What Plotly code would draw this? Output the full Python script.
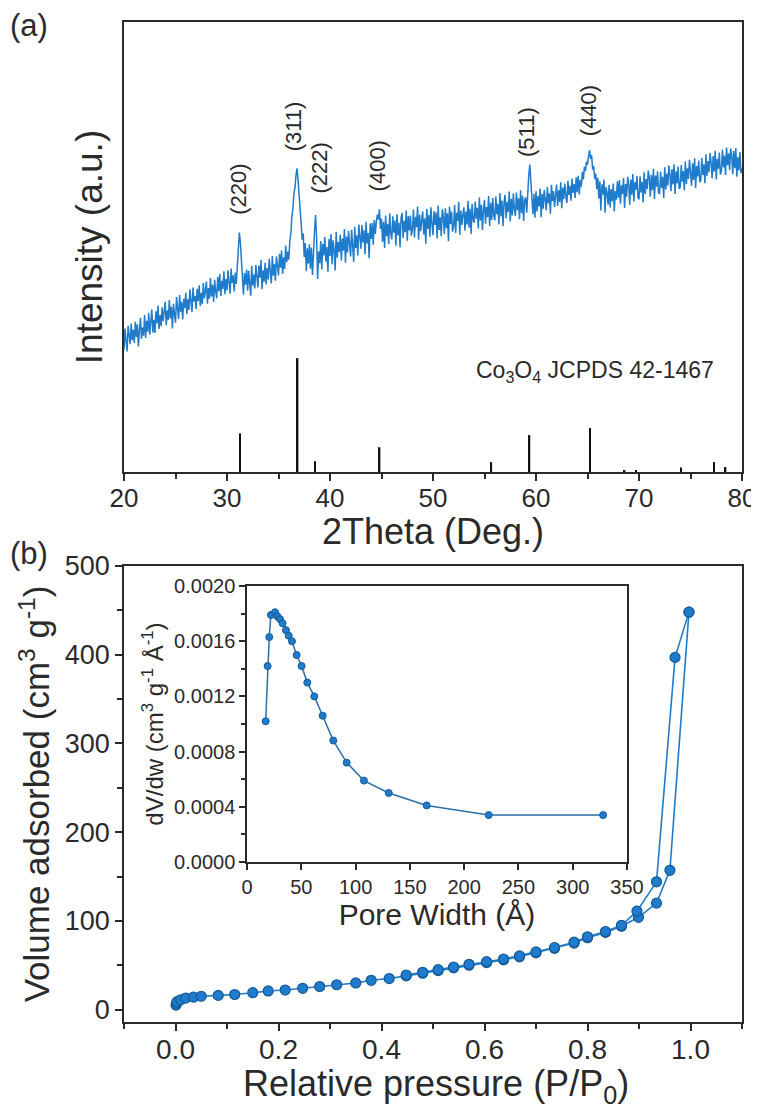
import numpy as np
import plotly.graph_objects as go

# ---- (a) XRD pattern, 0.1 deg steps ----
two_theta = np.round(np.arange(20, 80.001, 0.1), 1)
intensity = [
    27.2, 31.9, 29.0, 26.8, 32.5, 30.1, 28.4, 33.0, 29.3, 31.6,
    28.7, 33.4, 30.0, 32.8, 27.9, 31.5, 34.2, 29.6, 32.1, 30.3,
    34.9, 29.8, 33.6, 31.2, 35.4, 30.5, 32.9, 36.1, 31.0, 33.8,
    30.9, 35.7, 33.0, 37.0, 31.8, 34.9, 32.4, 36.6, 33.5, 35.2,
    37.8, 32.6, 35.9, 33.8, 38.2, 34.1, 36.7, 31.9, 37.4, 35.0,
    33.2, 38.9, 36.1, 34.0, 39.3, 35.6, 37.8, 33.9, 38.5, 36.4,
    39.8, 35.1, 38.4, 36.0, 40.6, 37.2, 35.5, 41.0, 37.9, 39.1,
    36.2, 40.7, 38.0, 41.5, 36.9, 39.8, 37.3, 42.0, 38.6, 40.2,
    42.3, 37.4, 40.9, 38.5, 43.1, 39.0, 41.6, 37.8, 42.7, 40.1,
    38.6, 43.4, 40.2, 44.0, 39.1, 42.5, 40.7, 44.6, 39.5, 42.9,
    40.4, 44.8, 41.3, 39.6, 45.2, 42.0, 43.7, 40.1, 44.3, 41.8,
    45.6, 49.0, 53.2, 51.0, 46.1, 43.0, 39.4, 44.2, 41.6, 45.0,
    40.3, 44.7, 42.1, 39.2, 45.8, 41.4, 43.9, 40.8, 46.0, 42.6,
    41.0, 45.9, 43.2, 47.1, 40.6, 44.8, 42.3, 46.5, 41.7, 45.3,
    42.8, 47.4, 44.1, 41.9, 48.0, 43.6, 46.2, 42.5, 47.9, 45.0,
    43.7, 48.5, 45.4, 49.2, 44.0, 47.7, 45.1, 50.3, 46.6, 49.0,
    47.2, 51.4, 53.0, 56.8, 58.5, 61.9, 63.2, 66.0, 67.5, 64.8,
    62.1, 58.0, 55.2, 51.6, 53.0, 47.8, 50.9, 44.6, 49.7, 46.3,
    50.6, 45.2, 49.9, 43.8, 51.2, 53.5, 57.1, 52.0, 42.9, 49.0,
    46.4, 51.3, 45.0, 50.7, 48.1, 52.2, 46.8, 50.0, 44.5, 51.8,
    48.0, 52.9, 46.2, 51.5, 49.3, 44.8, 53.4, 47.6, 51.1, 48.9,
    52.7, 47.0, 51.9, 49.2, 54.0, 46.5, 52.3, 48.8, 53.6, 50.1,
    47.9, 53.8, 50.4, 46.7, 54.5, 49.8, 52.6, 48.1, 55.0, 50.9,
    49.6, 54.9, 51.0, 53.7, 48.4, 55.6, 50.8, 53.1, 47.5, 55.2,
    51.8, 55.3, 50.5, 56.0, 52.9, 55.7, 57.2, 56.1, 58.4, 54.0,
    56.3, 51.1, 55.6, 49.8, 57.0, 52.4, 55.1, 50.6, 57.5, 53.0,
    51.7, 56.8, 53.2, 55.9, 50.3, 57.3, 52.6, 55.4, 49.9, 56.5,
    57.6, 52.0, 55.8, 53.3, 58.1, 51.4, 56.9, 53.7, 57.0, 52.5,
    53.9, 58.3, 52.1, 56.7, 54.4, 59.0, 51.6, 57.2, 53.5, 56.0,
    57.9, 52.8, 56.4, 50.7, 58.5, 54.0, 57.1, 52.3, 58.8, 55.2,
    52.6, 58.0, 54.9, 57.7, 51.9, 59.2, 53.8, 56.6, 52.4, 58.4,
    56.8, 52.9, 58.6, 54.2, 57.5, 51.3, 59.0, 55.1, 57.9, 53.4,
    54.5, 59.3, 53.1, 57.6, 55.8, 60.0, 52.7, 58.1, 54.9, 57.2,
    58.8, 53.6, 57.9, 55.0, 60.2, 54.3, 58.5, 52.9, 59.6, 56.0,
    55.4, 60.1, 56.3, 58.7, 54.1, 61.0, 55.9, 59.4, 53.8, 58.2,
    60.5, 55.2, 58.9, 56.6, 61.3, 54.7, 59.8, 56.0, 60.9, 57.1,
    55.9, 61.2, 57.3, 59.6, 55.0, 62.0, 56.8, 60.3, 54.6, 59.9,
    61.6, 56.4, 60.0, 57.8, 62.3, 55.7, 60.7, 57.0, 61.9, 58.3,
    56.9, 62.1, 58.2, 60.8, 56.2, 62.6, 57.5, 61.4, 55.8, 60.5,
    61.0, 57.6, 63.4, 66.0, 68.3, 64.9, 61.2, 57.3, 61.8, 56.5,
    62.4, 57.9, 61.3, 59.0, 63.0, 56.6, 61.8, 58.5, 62.7, 59.6,
    58.2, 63.3, 59.7, 61.9, 57.4, 63.8, 60.2, 62.4, 58.9, 61.5,
    63.9, 59.1, 62.6, 60.0, 64.4, 58.6, 63.2, 60.7, 64.1, 61.3,
    59.8, 64.7, 61.5, 63.6, 60.3, 65.2, 62.0, 64.0, 60.9, 65.5,
    62.2, 65.8, 61.7, 64.9, 63.4, 66.7, 65.0, 67.8, 66.9, 69.0,
    68.3, 70.2, 71.5, 69.6, 70.4, 67.2, 68.0, 65.1, 66.3, 62.9,
    65.4, 60.8, 64.6, 58.1, 63.9, 61.7, 65.0, 57.6, 63.3, 62.1,
    59.4, 63.8, 58.8, 62.9, 60.2, 64.1, 57.9, 62.4, 60.5, 64.6,
    60.9, 64.9, 59.6, 63.7, 61.8, 65.3, 58.7, 64.0, 61.2, 65.6,
    63.9, 59.4, 65.0, 61.6, 66.2, 60.1, 64.4, 62.7, 65.8, 61.0,
    60.6, 65.7, 62.1, 64.5, 59.9, 66.6, 61.8, 65.1, 62.9, 67.0,
    65.3, 61.2, 66.0, 62.6, 67.4, 60.7, 65.9, 63.4, 66.8, 62.0,
    61.9, 66.7, 63.1, 65.6, 60.9, 67.7, 62.8, 66.3, 63.6, 68.1,
    66.1, 62.4, 67.3, 63.9, 68.4, 61.8, 66.8, 64.2, 67.9, 62.9,
    63.3, 68.2, 64.5, 66.9, 62.6, 69.0, 64.0, 67.5, 65.1, 69.4,
    67.0, 63.6, 68.6, 64.9, 69.7, 63.1, 68.0, 65.7, 69.2, 64.4,
    64.9, 69.8, 66.0, 68.4, 64.2, 70.6, 65.8, 69.1, 66.6, 70.9,
    68.7, 65.3, 70.2, 66.8, 71.4, 65.0, 69.6, 67.4, 71.0, 66.1,
    66.9, 71.6, 67.7, 70.3, 66.0, 72.1, 68.2, 70.8, 67.1, 71.9,
    70.4, 66.2, 71.3, 67.5, 72.0, 65.6, 70.0, 67.0, 71.1, 66.4,
    67.5,
]

# JCPDS 42-1467 reference lines
ref_pos = [31.27, 36.85, 38.55, 44.81, 55.66, 59.36, 65.24, 68.6, 69.7, 74.1, 77.3, 78.4]
ref_int = [8.6, 25.3, 2.4, 5.5, 2.2, 8.2, 9.8, 0.3, 0.3, 1.0, 2.2, 1.1]

hkl_text = ["(220)", "(311)", "(222)", "(400)", "(511)", "(440)"]
hkl_x = [31.1, 36.4, 39.0, 44.7, 59.1, 65.1]
hkl_y = [62.8, 76.8, 67.6, 68.0, 75.5, 80.3]

# ---- (b) N2 isotherm ----
ads_p = [0.001, 0.002, 0.003, 0.01, 0.02, 0.035, 0.05, 0.083, 0.115, 0.15, 0.18, 0.213,
         0.247, 0.28, 0.313, 0.35, 0.38, 0.415, 0.448, 0.48, 0.51, 0.54, 0.57, 0.604,
         0.637, 0.668, 0.70, 0.736, 0.774, 0.80, 0.835, 0.866, 0.899, 0.934, 0.96, 0.997]
ads_v = [5, 7, 9, 11, 13, 14, 15, 16, 17, 19, 21, 22,
         24, 26, 28, 30, 33, 35, 38, 41, 44, 47, 50, 53,
         56, 59.5, 64, 69, 75, 81, 87, 94, 104, 120, 157, 448]
des_p = [0.997, 0.97, 0.934, 0.896, 0.866, 0.835, 0.80, 0.774, 0.736, 0.70, 0.668,
         0.637, 0.604, 0.57, 0.54, 0.51, 0.48, 0.448]
des_v = [448, 397, 144, 111, 95, 88, 82, 76, 70, 65, 60.5,
         57, 54, 51, 48, 45, 42, 39]

# ---- inset: pore size distribution ----
pore_w = [17.2, 19.0, 20.5, 22.0, 25.8, 28.0, 30.4, 32.8, 35.9, 38.4, 41.4, 45.7,
          50.3, 55.5, 62.0, 69.7, 79.5, 91.8, 107.7, 130.5, 165.5, 222.6, 328.0]
dv_dw = [0.00102, 0.00142, 0.00163, 0.00179, 0.00181, 0.00178, 0.00176, 0.00173,
         0.00168, 0.00164, 0.00160, 0.00150, 0.00142, 0.00130, 0.00120, 0.00106,
         0.00088, 0.00072, 0.00059, 0.00050, 0.00041, 0.00034, 0.00034]

blue = "#1f7bcb"
dark = "#2a2a2a"
FONT = "Liberation Sans, Arial, sans-serif"

# the page body has an 8px margin, so the figure is made smaller and
# positions are given in page pixels minus that offset
OFF = 8
W, H = 751, 1097

def px_x(a, b):
    return [(a - OFF) / W, (b - OFF) / W]

def px_y(top, bottom):
    return [1 - (bottom - OFF) / H, 1 - (top - OFF) / H]

def pos_x(a):
    return (a - OFF) / W

def pos_y(a):
    return 1 - (a - OFF) / H

fig = go.Figure()

fig.add_trace(go.Scatter(x=two_theta, y=intensity, mode="lines",
                         line=dict(color=blue, width=1.5), xaxis="x", yaxis="y"))
fig.add_trace(go.Bar(x=ref_pos, y=ref_int, width=0.16, marker=dict(color="#111", line=dict(width=0)),
                     xaxis="x", yaxis="y"))

mk = dict(color=blue, size=10, line=dict(color="#155a96", width=1.2))
fig.add_trace(go.Scatter(x=ads_p, y=ads_v, mode="lines+markers", line=dict(color=blue, width=1.6),
                         marker=mk, xaxis="x2", yaxis="y2"))
fig.add_trace(go.Scatter(x=des_p, y=des_v, mode="lines+markers", line=dict(color=blue, width=1.6),
                         marker=mk, xaxis="x2", yaxis="y2"))

fig.add_trace(go.Scatter(x=pore_w, y=dv_dw, mode="lines+markers", line=dict(color="#2a6fa8", width=1.5),
                         marker=dict(color=blue, size=7, line=dict(color="#155a96", width=1)),
                         xaxis="x3", yaxis="y3"))

axis_common = dict(showline=True, linecolor=dark, linewidth=1.8, mirror=True, automargin=False,
                   ticks="outside", tickcolor=dark, tickwidth=1.6, showgrid=False,
                   zeroline=False, ticklabeloverflow="allow", tickfont=dict(family=FONT, color=dark))

fig.update_layout(
    width=W, height=H, margin=dict(l=0, r=0, t=0, b=0, autoexpand=False),
    paper_bgcolor="white", plot_bgcolor="rgba(0,0,0,0)", showlegend=False,
    font=dict(family=FONT, color=dark),
    xaxis=dict(axis_common, domain=px_x(124, 742), anchor="y", range=[20, 80], dtick=10, ticklen=7,
               tickfont=dict(size=26, family=FONT, color=dark), ticklabelstandoff=-5,
               minor=dict(ticks="outside", dtick=5, ticklen=5, tickcolor=dark)),
    yaxis=dict(axis_common, domain=px_y(22, 472), anchor="x", range=[0, 100], ticks="",
               showticklabels=False,
               title=dict(text="Intensity (a.u.)", font=dict(size=37), standoff=8)),
    xaxis2=dict(axis_common, domain=px_x(124, 742), anchor="y2", range=[-0.1, 1.1], dtick=0.2,
                tick0=0, tickformat=".1f", ticklen=7, ticklabelstandoff=-6,
                tickfont=dict(size=28, family=FONT, color=dark),
                minor=dict(ticks="outside", dtick=0.1, ticklen=5, tickcolor=dark)),
    yaxis2=dict(axis_common, domain=px_y(566, 1022), anchor="x2", range=[-14, 500], dtick=100,
                tick0=0, ticklen=7, tickfont=dict(size=27, family=FONT, color=dark),
                minor=dict(ticks="outside", dtick=50, ticklen=5, tickcolor=dark),
                title=dict(text="Volume adsorbed (cm<sup>3</sup> g<sup>-1</sup>)",
                           font=dict(size=35), standoff=4)),
    xaxis3=dict(axis_common, domain=px_x(247, 627), anchor="y3", range=[0, 350], dtick=50,
                ticklen=6, linewidth=1.5, tickfont=dict(size=20, family=FONT, color=dark),
                title=dict(text="Pore Width (Å)", font=dict(size=30), standoff=2)),
    yaxis3=dict(axis_common, domain=px_y(586, 862), anchor="x3", range=[0, 0.002], dtick=0.0004,
                tickformat=".4f", ticklen=6, linewidth=1.5,
                tickfont=dict(size=20, family=FONT, color=dark),
                minor=dict(ticks="outside", dtick=0.0002, ticklen=4, tickcolor=dark),
                title=dict(text="dV/dw (cm<sup>3</sup> g<sup>-1</sup> Å<sup>-1</sup>)",
                           font=dict(size=24), standoff=4)),
)

for t, x, y in zip(hkl_text, hkl_x, hkl_y):
    fig.add_annotation(x=x, y=y, xref="x", yref="y", text=t, textangle=-90, showarrow=False,
                       font=dict(size=22, family=FONT, color=dark))

# x axis titles placed by hand (plotly ignores standoff without automargin)
fig.add_annotation(x=pos_x(433), y=pos_y(531), xref="paper", yref="paper", yanchor="middle",
                   text="2Theta (Deg.)", showarrow=False, font=dict(size=36, family=FONT, color=dark))
fig.add_annotation(x=pos_x(436), y=pos_y(1086), xref="paper", yref="paper", yanchor="middle",
                   text="Relative pressure (P/P<sub>0</sub>)", showarrow=False,
                   font=dict(size=36, family=FONT, color=dark))

fig.add_annotation(x=pos_x(716), y=pos_y(372), xref="paper", yref="paper", xanchor="right",
                   yanchor="middle", text="Co<sub>3</sub>O<sub>4</sub> JCPDS 42-1467", showarrow=False,
                   font=dict(size=23, family=FONT, color=dark))
fig.add_annotation(x=pos_x(8), y=pos_y(26), xref="paper", yref="paper", xanchor="left",
                   yanchor="middle", text="(a)", showarrow=False, font=dict(size=31, family=FONT, color=dark))
fig.add_annotation(x=pos_x(8), y=pos_y(553), xref="paper", yref="paper", xanchor="left",
                   yanchor="middle", text="(b)", showarrow=False, font=dict(size=31, family=FONT, color=dark))

fig.write_html("out.html")
